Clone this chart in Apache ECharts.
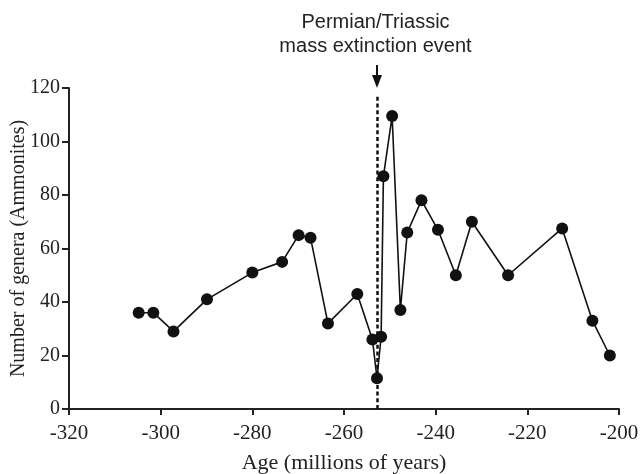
<!DOCTYPE html>
<html>
<head>
<meta charset="utf-8">
<script src="https://cdn.jsdelivr.net/npm/echarts@6/dist/echarts.min.js"></script>
<style>
  html, body { margin: 0; padding: 0; background: #fff; }
  #main { width: 640px; height: 474px; }
</style>
</head>
<body>
<div id="main"></div>
<script>
// age (Ma) and number of ammonite genera
var ages = [-304.8, -301.6, -297.2, -289.9, -280.0, -273.5, -269.9, -267.3, -263.5,
            -257.1, -253.8, -252.8, -251.9, -251.4, -249.5, -247.7, -246.2, -243.1,
            -239.5, -235.6, -232.1, -224.2, -212.4, -205.8, -202.0];
var genera = [36, 36, 29, 41, 51, 55, 65, 64, 32,
              43, 26, 11.5, 27, 87, 109.5, 37, 66, 78,
              67, 50, 70, 50, 67.5, 33, 20];
var extinctionAge = -252.8;
var extinctionLabel = ['Permian/Triassic', 'mass extinction event'];

var points = ages.map(function (a, i) { return [a, genera[i]]; });

var serif = '"Liberation Serif", "Times New Roman", serif';
var chart = echarts.init(document.getElementById('main'));

var option = {
    animation: false,
    backgroundColor: '#fff',
    grid: { left: 69, right: 21, top: 88, bottom: 65, outerBoundsMode: 'none', containLabel: false },
    xAxis: {
        type: 'value',
        min: -320, max: -200, interval: 20,
        name: 'Age (millions of years)',
        nameLocation: 'middle',
        nameGap: 43,
        nameTextStyle: { fontFamily: serif, fontSize: 22, color: '#222' },
        axisLine: { onZero: false, lineStyle: { color: '#222', width: 2 } },
        axisTick: { length: 6, lineStyle: { color: '#222', width: 2 } },
        axisLabel: { fontFamily: serif, fontSize: 21, color: '#222', margin: 14 },
        splitLine: { show: false }
    },
    yAxis: {
        type: 'value',
        min: 0, max: 120, interval: 20,
        name: 'Number of genera (Ammonites)',
        nameLocation: 'middle',
        nameGap: 40,
        nameMoveOverlap: false,
        nameTextStyle: { fontFamily: serif, fontSize: 20, color: '#222' },
        axisLine: { show: true, lineStyle: { color: '#222', width: 2 } },
        axisTick: { show: true, length: 7, lineStyle: { color: '#222', width: 2 } },
        axisLabel: { fontFamily: serif, fontSize: 20, color: '#222', margin: 9 },
        splitLine: { show: false }
    },
    series: [{
        type: 'line',
        data: points,
        symbol: 'circle',
        symbolSize: 12,
        lineStyle: { color: '#111', width: 1.6 },
        itemStyle: { color: '#111' },
        z: 3,
        markLine: {
            silent: true,
            symbol: 'none',
            label: { show: false },
            lineStyle: { color: '#111', type: [4, 2.7], width: 2.5 },
            data: [[{ coord: [extinctionAge, 0] }, { coord: [extinctionAge, 117.5] }]],
            z: 2
        }
    }]
};
chart.setOption(option);

// arrow and label above the dashed marker line
var ax = chart.convertToPixel({ xAxisIndex: 0 }, extinctionAge);
var ay = chart.convertToPixel({ yAxisIndex: 0 }, 120);
chart.setOption({
    graphic: [
        {
            type: 'line',
            shape: { x1: ax, y1: ay - 23, x2: ax, y2: ay - 6 },
            style: { stroke: '#111', lineWidth: 2 }
        },
        {
            type: 'polygon',
            shape: { points: [[ax - 5, ay - 13], [ax + 5, ay - 13], [ax, ay]] },
            style: { fill: '#111' }
        },
        {
            type: 'text',
            x: ax - 1.5, y: 34,
            style: {
                text: extinctionLabel.join('\n'),
                font: '20px "Liberation Sans", Arial, sans-serif',
                fill: '#222',
                align: 'center',
                verticalAlign: 'middle',
                lineHeight: 24
            }
        }
    ]
});
</script>
</body>
</html>
